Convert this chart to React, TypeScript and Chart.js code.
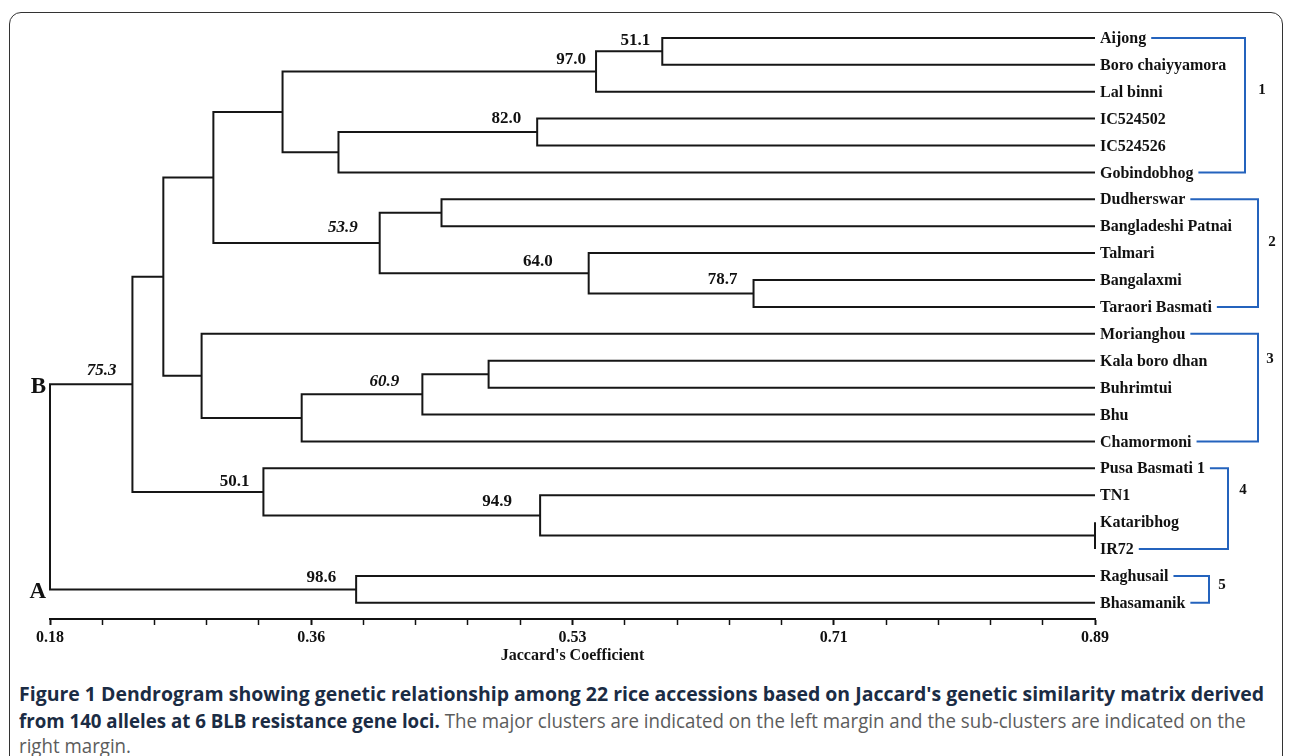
import React, { useEffect, useRef } from "react";
import { Chart, registerables } from "chart.js";

Chart.register(...registerables);

// ---------- DATA ----------
const leafNames = [
  "Aijong", "Boro chaiyyamora", "Lal binni", "IC524502", "IC524526", "Gobindobhog",
  "Dudherswar", "Bangladeshi Patnai", "Talmari", "Bangalaxmi", "Taraori Basmati",
  "Morianghou", "Kala boro dhan", "Buhrimtui", "Bhu", "Chamormoni",
  "Pusa Basmati 1", "TN1", "Kataribhog", "IR72", "Raghusail", "Bhasamanik",
];

// merges (ids 22..42), scipy-like linkage: left child, right child, similarity
const mergeLeft = [0, 22, 3, 24, 23, 6, 9, 8, 27, 26, 12, 32, 33, 11, 31, 18, 17, 16, 36, 20, 40];
const mergeRight = [1, 2, 4, 5, 25, 7, 10, 28, 29, 30, 13, 14, 15, 34, 35, 19, 37, 38, 39, 21, 41];
const mergeSimilarity = [0.596, 0.551, 0.511, 0.376, 0.338, 0.446, 0.658, 0.546, 0.404, 0.291, 0.478, 0.433, 0.351, 0.283, 0.257, 0.89, 0.513, 0.325, 0.236, 0.388, 0.18];
const mergeSupport = ["51.1", "97.0", "82.0", "", "", "", "78.7", "64.0", "53.9", "", "", "60.9", "", "", "", "", "94.9", "50.1", "75.3", "98.6", ""];

const majorClusterLabels = ["B", "A"]; // children of the root
const clusterFirst = [0, 6, 11, 16, 20];
const clusterLast = [5, 10, 15, 19, 21];
const clusterNames = ["1", "2", "3", "4", "5"];

const xMin = 0.18;
const xMax = 0.89;
const tickLabels = ["0.18", "0.36", "0.53", "0.71", "0.89"];
const minorPerMajor = 5;
const axisTitle = "Jaccard's Coefficient";

// ---------- STYLE / LAYOUT ----------
const supportStyle: Record<string, { dx: number; dy: number; italic?: boolean }> = {
  "51.1": { dx: -12, dy: -11 },
  "97.0": { dx: -10, dy: -12 },
  "82.0": { dx: -16, dy: -13 },
  "78.7": { dx: -16, dy: -14 },
  "64.0": { dx: -36, dy: -12 },
  "53.9": { dx: -22, dy: -15, italic: true },
  "60.9": { dx: -23, dy: -13, italic: true },
  "94.9": { dx: -28, dy: -14 },
  "50.1": { dx: -14, dy: -10 },
  "75.3": { dx: -16, dy: -14, italic: true },
  "98.6": { dx: -20, dy: -12 },
};
const bracketX = [1245, 1258, 1258, 1228, 1209];
const clusterNumberPos = [
  { x: 1262, y: 90 }, { x: 1272, y: 242 }, { x: 1270, y: 359 }, { x: 1243, y: 490 }, { x: 1222, y: 585 },
];
const SERIF = '"Liberation Serif", "DejaVu Serif", serif';
const LINE = "#161616";
const BLUE = "#2463bd";

const nLeaves = leafNames.length;
function nodeX(id: number): number {
  return id < nLeaves ? xMax : mergeSimilarity[id - nLeaves];
}
const yCache: Record<number, number> = {};
function nodeY(id: number): number {
  if (id < nLeaves) return id;
  if (yCache[id] !== undefined) return yCache[id];
  const k = id - nLeaves;
  const v = (nodeY(mergeLeft[k]) + nodeY(mergeRight[k])) / 2;
  yCache[id] = v;
  return v;
}

const datasets = mergeLeft.map((l, k) => {
  const r = mergeRight[k];
  const h = mergeSimilarity[k];
  return {
    label: "m" + k,
    data: [
      { x: nodeX(l), y: nodeY(l) },
      { x: h, y: nodeY(l) },
      { x: h, y: nodeY(r) },
      { x: nodeX(r), y: nodeY(r) },
    ],
    showLine: true,
    borderColor: LINE,
    borderWidth: 2,
    pointRadius: 0,
    pointHoverRadius: 0,
    tension: 0,
    fill: false,
    clip: false as any,
  };
});

const tickValues: number[] = [];
for (let i = 0; i <= (tickLabels.length - 1) * minorPerMajor; i++) {
  tickValues.push(xMin + (i * (xMax - xMin)) / ((tickLabels.length - 1) * minorPerMajor));
}

const dendroText = {
  id: "dendroText",
  afterDatasetsDraw(chart: any) {
    const { ctx } = chart;
    const xs = chart.scales.x;
    const ys = chart.scales.y;
    ctx.save();
    const xEnd = xs.getPixelForValue(xMax);

    // leaf labels
    ctx.font = `bold 16px ${SERIF}`;
    ctx.fillStyle = "#111";
    ctx.textAlign = "left";
    ctx.textBaseline = "middle";
    const labelStart = xEnd + 5;
    leafNames.forEach((n, i) => {
      ctx.fillText(n, labelStart, ys.getPixelForValue(i) + 1);
    });

    // cluster brackets
    ctx.strokeStyle = BLUE;
    ctx.lineWidth = 2;
    clusterFirst.forEach((f, c) => {
      const l = clusterLast[c];
      const yT = ys.getPixelForValue(f);
      const yB = ys.getPixelForValue(l);
      const sT = labelStart + ctx.measureText(leafNames[f]).width + 5;
      const sB = labelStart + ctx.measureText(leafNames[l]).width + 5;
      ctx.beginPath();
      ctx.moveTo(sT, yT);
      ctx.lineTo(bracketX[c], yT);
      ctx.lineTo(bracketX[c], yB);
      ctx.lineTo(sB, yB);
      ctx.stroke();
    });
    ctx.font = `bold 15px ${SERIF}`;
    ctx.textAlign = "center";
    clusterNames.forEach((n, c) => {
      ctx.fillText(n, clusterNumberPos[c].x, clusterNumberPos[c].y);
    });

    // support values
    ctx.textAlign = "right";
    mergeSupport.forEach((s, k) => {
      if (!s) return;
      const st = supportStyle[s] || { dx: -14, dy: -12 };
      ctx.font = `${st.italic ? "italic " : ""}bold 17px ${SERIF}`;
      const px = xs.getPixelForValue(mergeSimilarity[k]) + st.dx;
      const py = ys.getPixelForValue(nodeY(k + nLeaves)) + st.dy;
      ctx.fillText(s, px, py);
    });

    // major clusters A / B
    const root = nLeaves + mergeLeft.length - 1;
    const rk = root - nLeaves;
    ctx.font = `bold 23px ${SERIF}`;
    ctx.textAlign = "right";
    [mergeLeft[rk], mergeRight[rk]].forEach((child, i) => {
      ctx.fillText(majorClusterLabels[i], xs.getPixelForValue(xMin) - 4, ys.getPixelForValue(nodeY(child)) + 3);
    });
    ctx.restore();
  },
};

export default function App() {
  const canvasRef = useRef<HTMLCanvasElement>(null);
  const l1 = useRef<HTMLDivElement>(null);
  const l2 = useRef<HTMLDivElement>(null);
  const l3 = useRef<HTMLDivElement>(null);

  useEffect(() => {
    const chart = new Chart(canvasRef.current as HTMLCanvasElement, {
      type: "scatter",
      data: { datasets: datasets as any },
      plugins: [dendroText],
      options: {
        animation: false,
        responsive: false,
        devicePixelRatio: 1,
        events: [],
        layout: { padding: { left: 50, right: 195, top: 11, bottom: 13 } },
        plugins: { legend: { display: false }, tooltip: { enabled: false }, title: { display: false } },
        scales: {
          x: {
            type: "linear",
            position: "bottom",
            min: xMin,
            max: xMax,
            afterBuildTicks: (axis: any) => {
              axis.ticks = tickValues.map((v) => ({ value: v }));
            },
            afterFit: (axis: any) => {
              axis.height = 48;
            },
            ticks: {
              autoSkip: false,
              maxRotation: 0,
              padding: 3,
              color: "#111",
              font: { family: SERIF, size: 16, weight: "bold" },
              callback: (_v: any, i: number) => (i % minorPerMajor === 0 ? tickLabels[i / minorPerMajor] : ""),
            },
            grid: {
              display: true,
              drawOnChartArea: false,
              drawTicks: true,
              tickLength: 6,
              color: "#111",
              tickWidth: (ctx: any) => (ctx.index % minorPerMajor === 0 ? 2 : 1.5),
            },
            border: { display: true, color: "#111", width: 2 },
            title: {
              display: true,
              text: axisTitle,
              color: "#111",
              font: { family: SERIF, size: 16, weight: "bold" },
              padding: { top: 0, bottom: 2 },
            },
          },
          y: {
            type: "linear",
            reverse: true,
            min: -1,
            max: 21.6,
            display: false,
          },
        },
      } as any,
    });

    // condense caption lines to the reference widths
    const fit = (el: HTMLDivElement | null, target: number) => {
      if (!el) return 1;
      el.style.transform = "none";
      const w = el.scrollWidth;
      const s = w > 0 ? target / w : 1;
      el.style.transform = `scaleX(${s})`;
      return s;
    };
    fit(l1.current, 1245);
    const s2 = fit(l2.current, 1227);
    if (l3.current) l3.current.style.transform = `scaleX(${s2})`;

    return () => chart.destroy();
  }, []);

  const lineStyle: React.CSSProperties = {
    position: "absolute",
    left: 19,
    whiteSpace: "nowrap",
    transformOrigin: "left center",
    fontFamily: '"Open Sans", "Noto Sans", sans-serif',
    fontSize: 19.5,
    lineHeight: "24px",
    display: "inline-block",
  };
  const bold: React.CSSProperties = { fontWeight: 700, color: "#1b2c44" };
  const reg: React.CSSProperties = { fontWeight: 400, color: "#5c5c5c" };

  return (
    <div style={{ position: "fixed", left: 0, top: 0, width: 1290, height: 756, overflow: "hidden", background: "#fff" }}>
      <div
        style={{
          position: "absolute",
          left: 9,
          top: 12,
          width: 1274,
          height: 820,
          border: "1.5px solid #333",
          borderRadius: 12,
          boxSizing: "border-box",
        }}
      />
      <canvas
        ref={canvasRef}
        width={1290}
        height={680}
        style={{ position: "absolute", left: 0, top: 0, width: 1290, height: 680 }}
      />
      <div ref={l1} style={{ ...lineStyle, top: 682 }}>
        <span style={bold}>
          Figure 1 Dendrogram showing genetic relationship among 22 rice accessions based on Jaccard's genetic similarity matrix derived
        </span>
      </div>
      <div ref={l2} style={{ ...lineStyle, top: 709 }}>
        <span style={bold}>from 140 alleles at 6 BLB resistance gene loci.</span>
        <span style={reg}> The major clusters are indicated on the left margin and the sub-clusters are indicated on the</span>
      </div>
      <div ref={l3} style={{ ...lineStyle, top: 734 }}>
        <span style={reg}>right margin.</span>
      </div>
    </div>
  );
}
